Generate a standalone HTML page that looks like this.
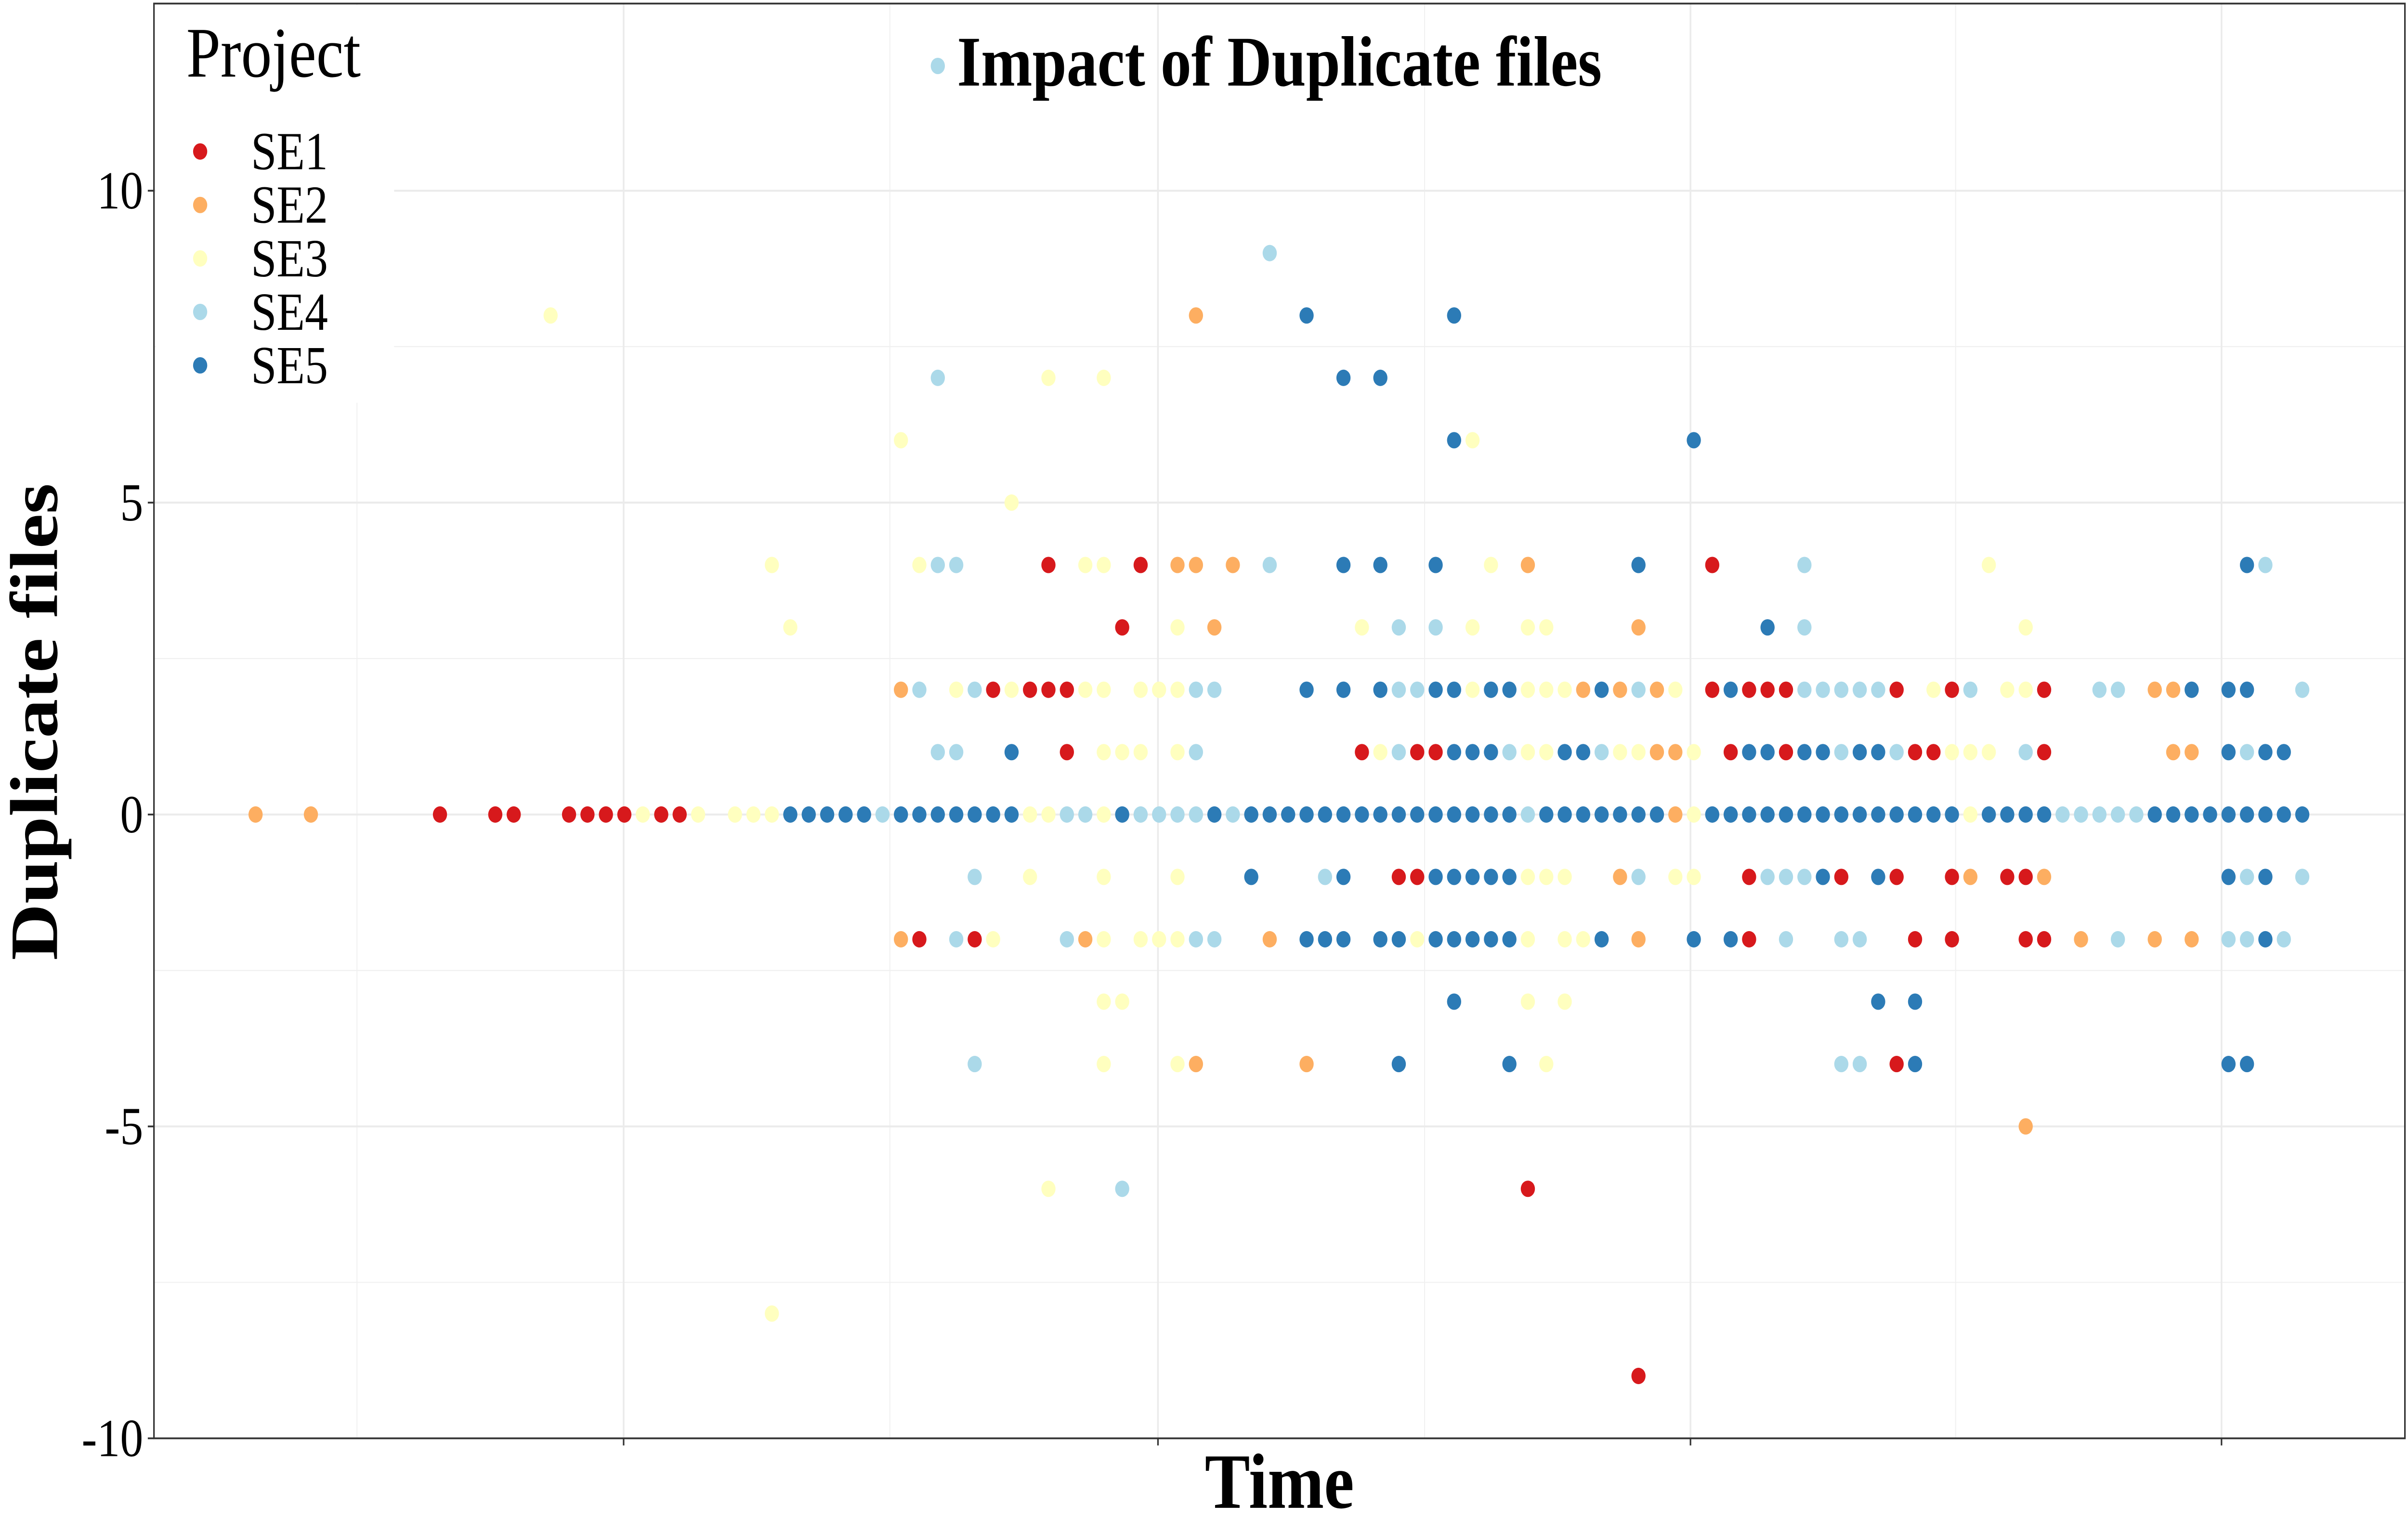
<!DOCTYPE html>
<html><head><meta charset="utf-8"><style>
html,body{margin:0;padding:0;background:#fff;width:100%;height:100%;overflow:hidden}
svg{display:block;width:100vw;height:100vh}
text{font-family:"Liberation Serif",serif}
</style></head><body>
<svg id="chart" viewBox="0 0 1564 859" preserveAspectRatio="none" xmlns="http://www.w3.org/2000/svg">
<g id="grid"></g>
<g id="points"></g>
<rect x="100" y="2" width="1462" height="805" fill="none" stroke="#333" stroke-width="1"/>
<g id="axes"></g>
<text x="831" y="48" text-anchor="middle" font-size="40" font-weight="bold">Impact of Duplicate files</text>
<text x="831" y="846" text-anchor="middle" font-size="44" font-weight="bold">Time</text>
<text transform="translate(37,405) rotate(-90)" text-anchor="middle" font-size="44" font-weight="bold">Duplicate files</text>
<g id="legend"></g>
</svg>
<script>
const projects = ["SE1","SE2","SE3","SE4","SE5"];
const colors = ["#D7191C","#FDAE61","#FFFFBF","#ABD9E9","#2C7BB6"];
const yTicks = [-10,-5,0,5,10];
const yMinor = [-7.5,-2.5,2.5,7.5];
const xMajorTicks = [19.96,48.94,77.82,106.62];
const xMinorTicks = [5.5,34.4,63.4,92.2];
// each row: value, times, project index (1..5)
const row12 = {v:12, t:[37], p:[4]};
const row9 = {v:9, t:[55], p:[4]};
const row8 = {v:8, t:[16,51,57,65], p:[3,2,5,5]};
const row7 = {v:7, t:[37,43,46,59,61], p:[4,3,3,5,5]};
const row6 = {v:6, t:[35,65,66,78], p:[3,5,3,5]};
const row5 = {v:5, t:[41], p:[3]};
const row4 = {v:4, t:[28,36,37,38,43,45,46,48,50,51,53,55,59,61,64,67,69,75,79,84,94,108,109], p:[3,3,4,4,1,3,3,1,2,2,2,4,5,5,5,3,2,5,1,4,3,5,4]};
const row3 = {v:3, t:[29,47,50,52,60,62,64,66,69,70,75,82,84,96], p:[3,1,3,2,3,4,4,3,3,3,2,5,4,3]};
const row2 = {v:2, t:[35,36,38,39,40,41,42,43,44,45,46,48,49,50,51,52,57,59,61,62,63,64,65,66,67,68,69,70,71,72,73,74,75,76,77,79,80,81,82,83,84,85,86,87,88,89,91,92,93,95,96,97,100,101,103,104,105,107,108,111], p:[2,4,3,4,1,3,1,1,1,3,3,3,3,3,4,4,5,5,5,4,4,5,5,3,5,5,3,3,3,2,5,2,4,2,3,1,5,1,1,1,4,4,4,4,4,1,3,1,4,3,3,1,4,4,2,2,5,5,5,4]};
const row1 = {v:1, t:[37,38,41,44,46,47,48,50,51,60,61,62,63,64,65,66,67,68,69,70,71,72,73,74,75,76,77,78,80,81,82,83,84,85,86,87,88,89,90,91,92,93,94,96,97,104,105,107,108,109,110], p:[4,4,5,1,3,3,3,3,4,1,3,4,1,1,5,5,5,4,3,3,5,5,4,3,3,2,2,3,1,5,5,1,5,5,4,5,5,4,1,1,3,3,3,4,1,2,2,5,4,5,5]};
const row0t = [0,3,10,13,14,17,18,19,20,21,22,23,24,26,27,28];
const row0p = [2,2,1,1,1,1,1,1,1,3,1,1,3,3,3,3];
const row0MainP = [5,5,5,5,5,4,5,5,5,5,5,5,5,3,3,4,4,3,5,4,4,4,4,5,4,5,5,5,5,5,5,5,5,5,5,5,5,5,5,5,4,5,5,5,5,5,5,5,2,3,5,5,5,5,5,5,5,5,5,5,5,5,5,5,3,5,5,5,5,4,4,4,4,4,5,5,5,5,5,5,5,5,5]; // t=29..111
const rowM1 = {v:-1, t:[39,42,46,50,54,58,59,62,63,64,65,66,67,68,69,70,71,74,75,77,78,81,82,83,84,85,86,88,89,92,93,95,96,97,107,108,109,111], p:[4,3,3,3,5,4,5,1,1,5,5,5,5,5,3,3,3,2,4,3,3,1,4,4,4,5,1,5,1,1,2,1,1,2,5,4,5,4]};
const rowM2 = {v:-2, t:[35,36,38,39,40,44,45,46,48,49,50,51,52,55,57,58,59,61,62,63,64,65,66,67,68,69,71,72,73,75,78,80,81,83,86,87,90,92,96,97,99,101,103,105,107,108,109,110], p:[2,1,4,1,3,4,2,3,3,3,3,4,4,2,5,5,5,5,5,3,5,5,5,5,5,3,3,3,5,2,5,5,1,4,4,4,1,1,1,1,2,4,2,2,4,4,5,4]};
const rowM3 = {v:-3, t:[46,47,65,69,71,88,90], p:[3,3,5,3,3,5,5]};
const rowM4 = {v:-4, t:[39,46,50,51,57,62,68,70,86,87,89,90,107,108], p:[4,3,3,2,2,5,5,3,4,4,1,5,5,5]};
const rowM5 = {v:-5, t:[96], p:[2]};
const rowM6 = {v:-6, t:[43,47,69], p:[3,4,1]};
const rowM8 = {v:-8, t:[28], p:[3]};
const rowM9 = {v:-9, t:[75], p:[1]};

const NS = "http://www.w3.org/2000/svg";
const xS = t => 166 + 11.976 * t;
const yS = v => 457 - 35 * v;
const X0 = 100, X1 = 1562, Y0 = 2, Y1 = 807;
function mk(tag, attrs, parent){ const e=document.createElementNS(NS,tag); for(const k in attrs) e.setAttribute(k,attrs[k]); parent.appendChild(e); return e; }
const grid = document.getElementById("grid");
mk("rect",{x:X0,y:Y0,width:X1-X0,height:Y1-Y0,fill:"#fff"},grid);
yMinor.forEach(v=>{ const l=mk("line",{x1:X0,x2:X1,y1:yS(v),y2:yS(v),stroke:"#f0f0f0","stroke-width":0.6},grid);

 });
xMinorTicks.forEach(t=>{ const l=mk("line",{x1:xS(t),x2:xS(t),y1:Y0,y2:Y1,stroke:"#f0f0f0","stroke-width":0.6},grid);

 });
yTicks.forEach(v=>{ const l=mk("line",{x1:X0,x2:X1,y1:yS(v),y2:yS(v),stroke:"#ebebeb","stroke-width":1.1},grid);

 });
xMajorTicks.forEach(t=>{ const l=mk("line",{x1:xS(t),x2:xS(t),y1:Y0,y2:Y1,stroke:"#ebebeb","stroke-width":1.1},grid);

 });

const axes = document.getElementById("axes");
yTicks.forEach(v=>{
  const tk=mk("line",{x1:X0-4,x2:X0,y1:yS(v),y2:yS(v),stroke:"#333","stroke-width":1},axes);
  
  
  const tx=mk("text",{x:X0-7,y:yS(v)+10,"text-anchor":"end","font-size":30,fill:"#000"},axes);
  tx.textContent=String(v);
  
  
});
xMajorTicks.forEach(t=>{
  const tk=mk("line",{x1:xS(t),x2:xS(t),y1:Y1,y2:Y1+4,stroke:"#333","stroke-width":1},axes);
  
  
});

const pts = document.getElementById("points");
function dot(t,v,p){
  const c=mk("circle",{cx:xS(t),cy:yS(v),r:4.6,fill:colors[p-1]},pts);
  
  
}
row0t.forEach((t,i)=>dot(t,0,row0p[i]));
row0MainP.forEach((p,i)=>dot(29+i,0,p));
[row12,row9,row8,row7,row6,row5,row4,row3,row2,row1,rowM1,rowM2,rowM3,rowM4,rowM5,rowM6,rowM8,rowM9].forEach(r=>{
  r.t.forEach((t,i)=>dot(t,r.v,r.p[i]));
});

const lg = document.getElementById("legend");
mk("rect",{x:101,y:3,width:155,height:223,fill:"#fff"},lg);
const lt=mk("text",{x:121,y:43,"font-size":40},lg);
lt.textContent="Project";


projects.forEach((p,i)=>{
  const y=85+30*i;
  const c=mk("circle",{cx:130,cy:y,r:4.6,fill:colors[i]},lg);
  
  
  const t=mk("text",{x:163,y:y+10,"font-size":30},lg);
  t.textContent=p;
  
  
});
</script>
</body></html>
